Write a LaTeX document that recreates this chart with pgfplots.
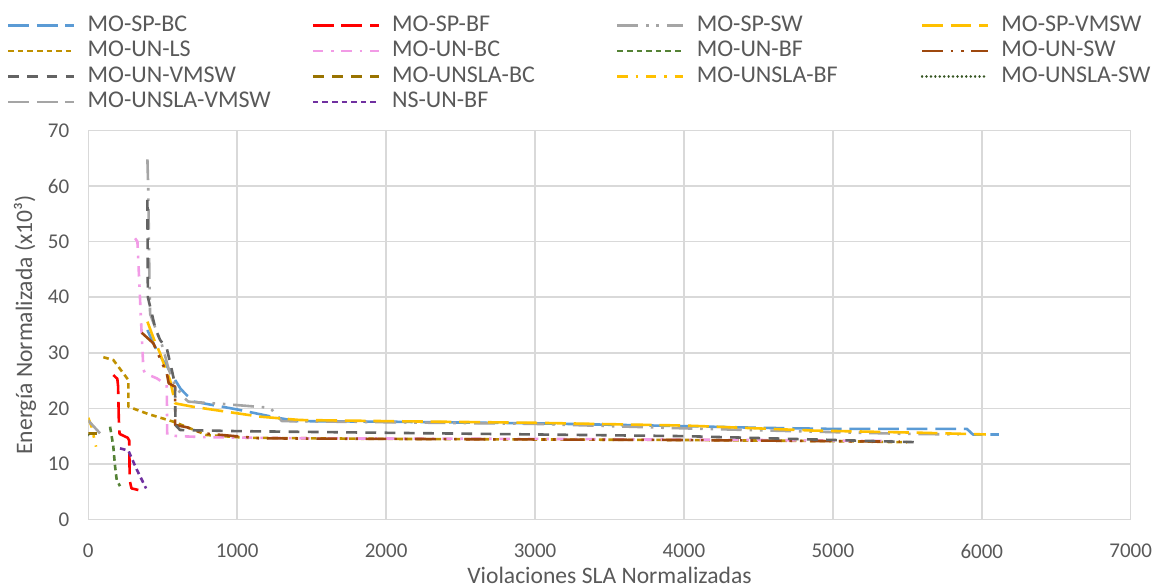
\documentclass[border=0pt]{standalone}
\usepackage{fontspec}
\setmainfont{Carlito}
\usepackage{pgfplots}
\pgfplotsset{compat=1.18}
\definecolor{gridc}{HTML}{D9D9D9}
\definecolor{lab}{HTML}{595959}
\definecolor{cblue}{HTML}{5B9BD5}
\definecolor{cred}{HTML}{FF0000}
\definecolor{cgray}{HTML}{A5A5A5}
\definecolor{cgold}{HTML}{FFC000}
\definecolor{cdgold}{HTML}{BF9000}
\definecolor{cpink}{HTML}{F29BE6}
\definecolor{cgreen}{HTML}{548235}
\definecolor{cbrown}{HTML}{9E480E}
\definecolor{cdgray}{HTML}{636363}
\definecolor{cddgold}{HTML}{997300}
\definecolor{cdgreen}{HTML}{375623}
\definecolor{cpurple}{HTML}{7030A0}
\tikzset{
  longdash/.style={dash pattern=on 10.4pt off 3.9pt},
  mdash/.style={dash pattern=on 5.4pt off 4.2pt},
  dashdot/.style={dash pattern=on 5.2pt off 3.9pt on 1.3pt off 3.9pt},
  ldashdd/.style={dash pattern=on 10.4pt off 3.9pt on 1.3pt off 3.9pt on 1.3pt off 3.9pt},
  sqdot/.style={dash pattern=on 2.8pt off 2pt},
  rddot/.style={dash pattern=on 0.01pt off 2.2pt, line cap=round},
}
\newcommand{\legtxt}[1]{\hspace{6pt}\makebox[112pt][l]{#1}}
\begin{document}
\begin{tikzpicture}
\begin{axis}[
  scale only axis, width=521.2pt, height=194.5pt,
  xmin=0, xmax=7000, ymin=0, ymax=70,
  xtick={0,1000,...,7000}, ytick={0,10,...,70},
  grid=major, major grid style={draw=gridc, line width=0.75pt},
  axis line style={draw=gridc, line width=0.75pt},
  major tick length=0pt,
  ticklabel style={font=\fontsize{10.5}{12}\selectfont, text=lab},
  yticklabel style={xshift=-6pt},
  xticklabel style={yshift=-8.9pt},
  /pgf/number format/assume math mode=true,
  /pgf/number format/set thousands separator={},
  label style={font=\fontsize{11.8}{14}\selectfont, text=lab},
  xlabel={Violaciones SLA Normalizadas},
  xlabel style={at={(axis description cs:0.5,0)}, anchor=center, yshift=-27.75pt},
  ylabel={Energía Normalizada (x10³)},
  ylabel style={at={(axis description cs:-0.0607,0.5)}, anchor=center},
  every axis plot/.append style={line width=1.3pt, line join=round},
  legend image code/.code={\draw[#1] (0pt,0pt) -- (33pt,0pt);},
  legend style={at={(axis description cs:0,1)}, anchor=north west,
    xshift=-40.65pt, yshift=58pt, draw=none, fill=none,
    inner xsep=0pt, inner ysep=0pt, outer sep=0pt,
    font=\fontsize{12}{14}\selectfont, text=lab,
    nodes={inner sep=0pt, text height=8.5pt, text depth=2.5pt},
    row sep=1.75pt},
  legend columns=4,
]
\addplot[cblue, longdash] coordinates {(397,34.1)(440,31.5)(480,29.5)(530,27.5)(583,25.1)(620,23.5)(660,22.4)(710,21.2)(1000,19.8)(1250,18.4)(1400,17.7)(2000,17.6)(3000,17.3)(4000,16.8)(4500,16.5)(5000,16.3)(5900,16.3)(5940,15.3)(6114,15.3)};
\addlegendentry{\legtxt{MO-SP-BC}}
\addplot[cred, longdash] coordinates {(168,26)(195,25.3)(200,24)(205,18)(210,15.4)(265,14.7)(275,14.2)(278,7)(290,5.6)(336,5.3)};
\addlegendentry{\legtxt{MO-SP-BF}}
\addplot[cgray, ldashdd] coordinates {(397,64.8)(403,59)(410,44)(415,37)(450,34.5)(500,31)(540,27)(585,24)(640,22)(672,21.2)(900,20.8)(1221,20.1)(1300,17.7)(2000,17.5)(3000,17.2)(4000,16.4)(4870,15.8)(5500,15.4)(5845,15.3)};
\addlegendentry{\legtxt{MO-SP-SW}}
\addplot[cgold, longdash] coordinates {(397,35.6)(440,32.5)(482,29.9)(520,27)(549,25.1)(570,22.5)(583,20.9)(700,20.3)(900,19.5)(1154,18.5)(1422,17.9)(2000,17.7)(3000,17.4)(4000,16.9)(4110,16.8)(4870,16.0)(5600,15.6)(6027,15.3)};
\addlegendentry{\legtxt{MO-SP-VMSW}}
\addplot[cdgold, sqdot] coordinates {(101,29.2)(168,28.7)(269,25.1)(269,20.3)(400,19)(571,17.6)(795,15.2)(1064,14.7)(2000,14.5)(3000,14.4)(4000,14.3)(5000,14.1)(5500,13.9)};
\addlegendentry{\legtxt{MO-UN-LS}}
\addplot[cpink, dashdot] coordinates {(314,50.6)(330,50)(352,37)(370,27)(381,26.3)(460,25.4)(527,24.2)(530,15.2)(600,15)(800,14.8)(1500,14.6)(3000,14.5)(4500,14.3)(5400,14.1)};
\addlegendentry{\legtxt{MO-UN-BC}}
\addplot[cgreen, sqdot] coordinates {(146,16.7)(160,14.5)(168,13.1)(180,9.5)(191,7.1)(213,6.0)};
\addlegendentry{\legtxt{MO-UN-BF}}
\addplot[cbrown, ldashdd] coordinates {(359,33.6)(437,31.7)(527,26.3)(540,24.5)(583,23.9)(583,17)(661,16.6)(773,15.5)(1154,14.6)(2000,14.5)(3000,14.4)(4000,14.3)(5000,14.1)(5450,14.0)};
\addlegendentry{\legtxt{MO-UN-SW}}
\addplot[cdgray, mdash] coordinates {(397,57.5)(400,40)(426,37.1)(450,34.4)(482,32.3)(527,30.8)(560,27)(583,24.2)(585,17)(616,16.1)(1000,15.9)(2000,15.6)(3000,15.3)(4000,15.0)(4870,14.4)(5576,13.9)};
\addlegendentry{\legtxt{MO-UN-VMSW}}
\addplot[cddgold, mdash] coordinates {(0,15.5)(56,15.5)};
\addlegendentry{\legtxt{MO-UNSLA-BC}}
\addplot[cgold, dashdot] coordinates {(0,18.3)(22,16.7)(52,13.1)};
\addlegendentry{\legtxt{MO-UNSLA-BF}}
\addplot[cdgreen, rddot] coordinates {(0,15.2)(5,14.6)};
\addlegendentry{\legtxt{MO-UNSLA-SW}}
\addplot[cgray, longdash] coordinates {(0,17.8)(79,15.5)};
\addlegendentry{\legtxt{MO-UNSLA-VMSW}}
\addplot[cpurple, sqdot] coordinates {(213,12.8)(269,12.4)(325,9)(388,5.6)};
\addlegendentry{\legtxt{NS-UN-BF}}
\end{axis}
\pgfresetboundingbox
\path ([shift={(-44.15pt,-34.25pt)}]current axis.south west) rectangle ([shift={(15.65pt,65.25pt)}]current axis.north east);
\end{tikzpicture}
\end{document}
